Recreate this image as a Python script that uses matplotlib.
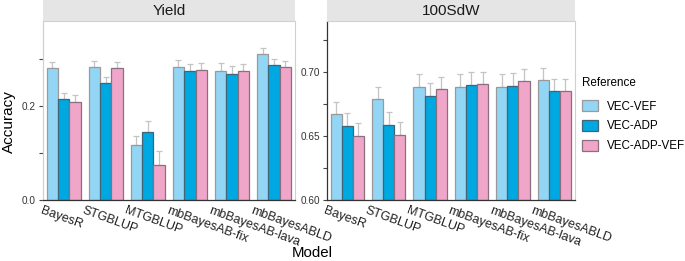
import numpy as np
import matplotlib.pyplot as plt
import matplotlib.transforms as mtransforms
from matplotlib.patches import Patch

plt.rcParams['font.family'] = ['Liberation Sans', 'DejaVu Sans']

models = ["BayesR", "STGBLUP", "MTGBLUP", "mbBayesAB-fix", "mbBayesAB-lava", "mbBayesABLD"]
refs = ["VEC-VEF", "VEC-ADP", "VEC-ADP-VEF"]

# Yield: mean accuracy and top of error bar
yield_mean = {
    "VEC-VEF":     [0.280, 0.282, 0.116, 0.282, 0.275, 0.311],
    "VEC-ADP":     [0.215, 0.248, 0.144, 0.274, 0.268, 0.287],
    "VEC-ADP-VEF": [0.209, 0.280, 0.075, 0.276, 0.274, 0.282],
}
yield_top = {
    "VEC-VEF":     [0.294, 0.296, 0.135, 0.297, 0.291, 0.324],
    "VEC-ADP":     [0.228, 0.262, 0.167, 0.289, 0.284, 0.300],
    "VEC-ADP-VEF": [0.223, 0.294, 0.105, 0.291, 0.290, 0.296],
}
# 100SdW
sdw_mean = {
    "VEC-VEF":     [0.6672, 0.6790, 0.6885, 0.6885, 0.6880, 0.6938],
    "VEC-ADP":     [0.6580, 0.6588, 0.6815, 0.6900, 0.6893, 0.6852],
    "VEC-ADP-VEF": [0.6500, 0.6508, 0.6867, 0.6909, 0.6932, 0.6852],
}
sdw_top = {
    "VEC-VEF":     [0.6768, 0.6885, 0.6984, 0.6980, 0.6980, 0.7034],
    "VEC-ADP":     [0.6680, 0.6690, 0.6910, 0.6998, 0.6990, 0.6943],
    "VEC-ADP-VEF": [0.6600, 0.6610, 0.6963, 0.7000, 0.7020, 0.6943],
}

fill = {"VEC-VEF": "#93D5F4", "VEC-ADP": "#00A8E1", "VEC-ADP-VEF": "#EFA6C9"}
edge = {"VEC-VEF": "#9a9a9a", "VEC-ADP": "#3f6577", "VEC-ADP-VEF": "#8c6f7e"}

fig = plt.figure(figsize=(6.85, 2.61), dpi=100)
W, H = 685, 261

def make_panel(x0, x1, title, mean, top, ylim, ticks, labels, base):
    ax = fig.add_axes([x0 / W, 1 - 200 / H, (x1 - x0) / W, (200 - 20.7) / H])
    x = np.arange(len(models))
    bw = 0.27
    for i, r in enumerate(refs):
        xs = x + (i - 1) * bw
        m = np.array(mean[r])
        t = np.array(top[r])
        ax.errorbar(xs, m, yerr=[np.zeros_like(m), t - m], fmt='none',
                    ecolor='#c4c4c4', elinewidth=0.9, capsize=2, capthick=0.9, zorder=1)
        ax.bar(xs, m - base, bw, bottom=base, color=fill[r], edgecolor=edge[r],
               linewidth=0.9, zorder=2)
    ax.set_xlim(-0.49, 5.5)
    ax.set_ylim(*ylim)
    ax.set_yticks(ticks)
    ax.set_yticklabels(labels, fontsize=7.2, color='#333333')
    ax.set_xticks(x)
    ax.set_xticklabels([])
    # rotated category labels, starting a little left of each tick
    tr = ax.get_xaxis_transform() + mtransforms.ScaledTranslation(-0.21, -0.05, fig.dpi_scale_trans)
    for xi, name in zip(x, models):
        ax.text(xi, 0, name, transform=tr, rotation=-20, ha='left', va='top',
                rotation_mode='anchor', fontsize=9, color='#222222')
    ax.tick_params(axis='y', length=3, color='#444444', pad=2)
    ax.tick_params(axis='x', length=0, pad=0)
    for s in ['top', 'right']:
        ax.spines[s].set_color('#d0d0d0')
        ax.spines[s].set_linewidth(0.8)
    ax.spines['bottom'].set_color('#333333')
    ax.spines['bottom'].set_linewidth(0.9)
    ax.spines['left'].set_linewidth(0.9)
    # strip
    sax = fig.add_axes([x0 / W, 1 - 20.7 / H, (x1 - x0) / W, 20.7 / H])
    sax.set_facecolor('#e5e5e5')
    sax.set_xticks([])
    sax.set_yticks([])
    for s in sax.spines.values():
        s.set_visible(False)
    sax.text(0.5, 0.45, title, ha='center', va='center', fontsize=11, color='#1a1a1a',
             transform=sax.transAxes)
    return ax

ax1 = make_panel(43, 295, "Yield", yield_mean, yield_top, (0, 0.381),
                 [0.0, 0.1, 0.2, 0.3], ["0.0", "", "0.2", ""], 0.0)
ax1.spines['left'].set_color('#d0d0d0')
ax2 = make_panel(327, 575, "100SdW", sdw_mean, sdw_top, (0.6, 0.740),
                 [0.600, 0.625, 0.650, 0.675, 0.700, 0.725],
                 ["0.60", "", "0.65", "", "0.70", ""], 0.6)
ax2.spines['left'].set_color('#333333')

fig.text(9 / W, 1 - 122 / H, "Accuracy", rotation=90, ha='center', va='center', fontsize=11)
fig.text(312 / W, 1 - 253 / H, "Model", ha='center', va='center', fontsize=10.8)

handles = [Patch(facecolor=fill[r], edgecolor=edge[r], linewidth=0.9) for r in refs]
leg = fig.legend(handles, refs, title="Reference", loc='upper left',
                 bbox_to_anchor=(582 / W, 1 - 77 / H), frameon=False, fontsize=8.4,
                 title_fontsize=8.4, handlelength=1.4, handleheight=1.1,
                 handletextpad=0.75, labelspacing=0.62, borderpad=0, borderaxespad=0)
leg._legend_box.align = "left"
leg._legend_box.sep = 8

fig.savefig("out.png", dpi=100)
